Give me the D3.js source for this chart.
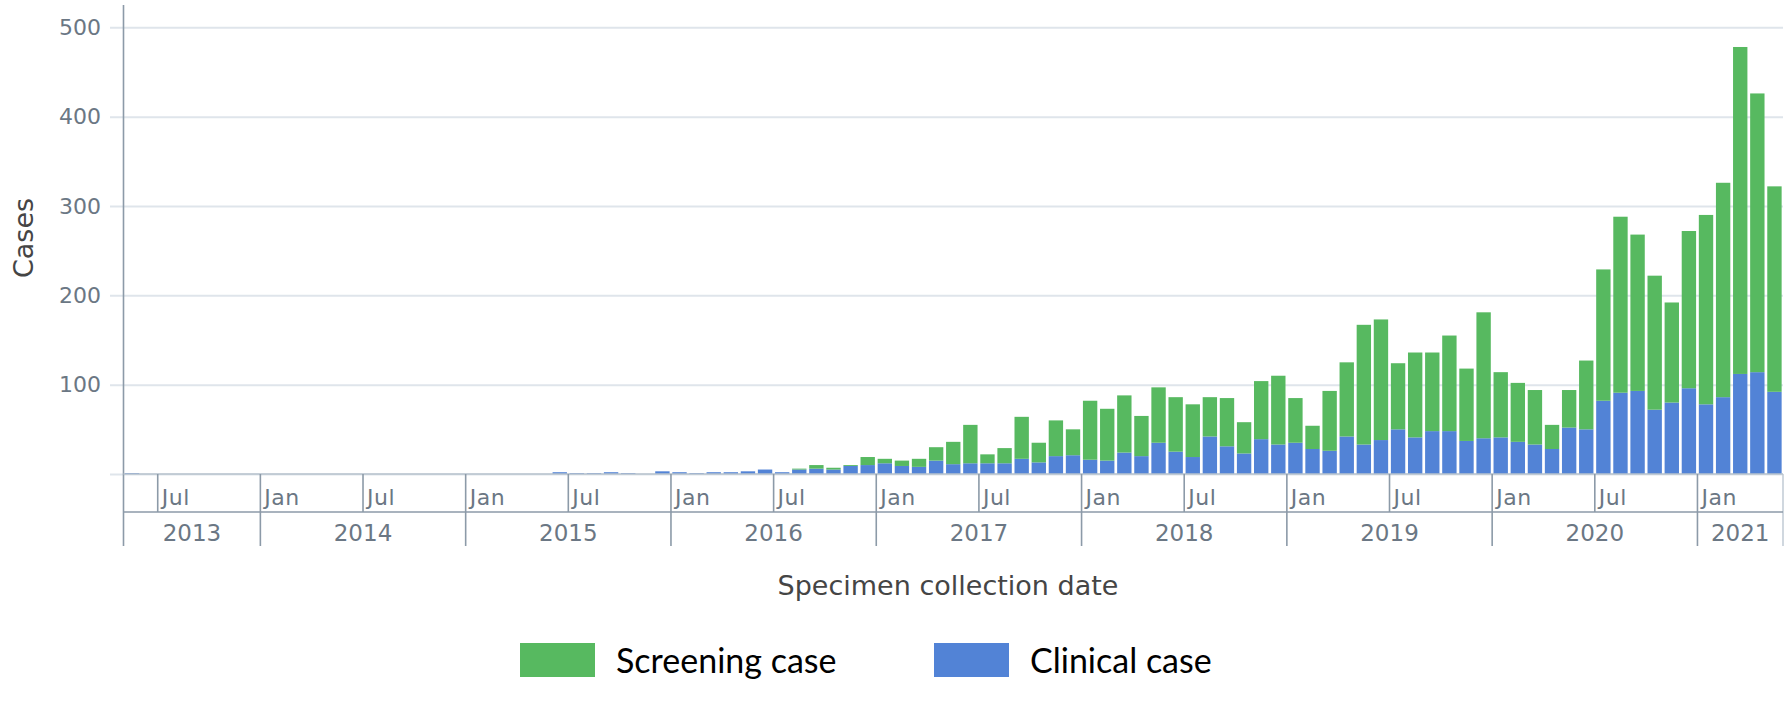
<!DOCTYPE html>
<html>
<head>
<meta charset="utf-8">
<script src="https://cdn.jsdelivr.net/npm/d3@7"></script>
<style>
  body { margin: 0; background: #fff; }
  svg { display: block; }
</style>
</head>
<body>
<svg class="cases-by-month" width="1791" height="712"></svg>
<script>
// monthly counts, May 2013 .. May 2021
const firstMonth = '2013-05'
const lastMonth = '2021-05'

const clinical = [
  1, 0, 0, 0, 0, 0, 0, 0,
  0, 0, 0, 0, 0, 0, 0, 0, 0, 0, 0, 0,
  0, 0, 0, 0, 0, 2, 1, 1, 2, 1, 0, 3,
  2, 1, 2, 2, 3, 5, 2, 5, 6, 5, 9, 10,
  12, 9, 8, 15, 11, 12, 12, 12, 17, 13, 20, 21,
  16, 15, 24, 20, 35, 25, 19, 42, 31, 23, 39, 33,
  35, 28, 26, 42, 33, 38, 50, 41, 48, 48, 37, 40,
  41, 36, 33, 28, 52, 50, 82, 91, 93, 72, 80, 96,
  78, 86, 112, 114, 92
]
const screening = [
  0, 0, 0, 0, 0, 0, 0, 0,
  0, 0, 0, 0, 0, 0, 0, 0, 0, 0, 0, 0,
  0, 0, 0, 0, 0, 0, 0, 0, 0, 0, 0, 0,
  0, 0, 0, 0, 0, 0, 0, 1, 4, 2, 1, 9,
  5, 6, 9, 15, 25, 43, 10, 17, 47, 22, 40, 29,
  66, 58, 64, 45, 62, 61, 59, 44, 54, 35, 65, 77,
  50, 26, 67, 83, 134, 135, 74, 95, 88, 107, 81, 141,
  73, 66, 61, 27, 42, 77, 147, 197, 175, 150, 112, 176,
  212, 240, 366, 312, 230
]
const yTicks = [0, 100, 200, 300, 400, 500]
const seriesNames = ['Screening case', 'Clinical case']
const colors = { clinical: '#5283d6', screening: '#57b960' }

const svg = d3.select('.cases-by-month')
const plotLeft = 123.5, plotRight = 1783, plotTop = 5, plotBottom = 474
const monthRow = 512, yearRow = 546
const axisColor = '#8c9aa8', labelColor = '#6b7784'

const parseMonth = d3.timeParse('%Y-%m')
const months = d3.timeMonth.range(parseMonth(firstMonth), d3.timeMonth.offset(parseMonth(lastMonth), 1))
const rows = months.map((m, i) => ({ month: m, clinical: clinical[i], screening: screening[i] }))

const x = d3.scaleBand().domain(months).range([plotLeft, plotRight]).paddingInner(0.16).paddingOuter(0.08)
const y = d3.scaleLinear().domain([0, 525]).range([plotBottom, plotTop])
const slotStart = m => x(m) - x.step() * x.paddingInner() / 2

// grid + y labels
const yAxis = svg.append('g')
  .attr('transform', 'translate(110,0)')
  .call(d3.axisLeft(y).tickValues(yTicks).tickSize(-(plotRight - 110)).tickPadding(9)
    .tickFormat(d => d === 0 ? '' : d))
yAxis.select('.domain').remove()
yAxis.selectAll('.tick line').attr('stroke', '#dfe5eb').attr('stroke-width', 2)
yAxis.selectAll('.tick text')
  .attr('fill', labelColor)
  .style('font-family', 'DejaVu Sans, sans-serif')
  .style('font-size', '22px')

// stacked bars
const stack = d3.stack().keys(['clinical', 'screening'])(rows)
svg.append('g').selectAll('g')
  .data(stack)
  .enter().append('g')
  .attr('fill', d => colors[d.key])
  .selectAll('rect')
  .data(d => d)
  .enter().append('rect')
  .attr('x', d => x(d.data.month))
  .attr('y', d => y(d[1]))
  .attr('width', x.bandwidth())
  .attr('height', d => y(d[0]) - y(d[1]))

// x axis frame
const frame = svg.append('g').attr('stroke', axisColor).attr('stroke-width', 1.6)
frame.append('line').attr('x1', plotLeft).attr('x2', plotLeft).attr('y1', plotTop).attr('y2', yearRow)
frame.append('line').attr('x1', plotRight).attr('x2', plotRight).attr('y1', plotBottom).attr('y2', yearRow)
  .attr('stroke', '#c5ced7')
frame.append('line').attr('x1', plotLeft).attr('x2', plotRight).attr('y1', plotBottom).attr('y2', plotBottom)
  .attr('stroke', '#b7c2cd')
frame.append('line').attr('x1', plotLeft).attr('x2', plotRight).attr('y1', monthRow).attr('y2', monthRow)

const halfYears = months.filter(m => m.getMonth() === 0 || m.getMonth() === 6)
frame.selectAll('.month-tick')
  .data(halfYears)
  .enter().append('line')
  .attr('x1', d => slotStart(d))
  .attr('x2', d => slotStart(d))
  .attr('y1', plotBottom)
  .attr('y2', monthRow)

svg.append('g').selectAll('text')
  .data(halfYears)
  .enter().append('text')
  .attr('x', d => slotStart(d) + 4)
  .attr('y', 505)
  .attr('fill', labelColor)
  .style('font-family', 'DejaVu Sans, sans-serif')
  .style('font-size', '22px')
  .style('letter-spacing', '0.5px')
  .text(d3.timeFormat('%b'))

const years = months.filter(m => m.getMonth() === 0)
frame.selectAll('.year-tick')
  .data(years)
  .enter().append('line')
  .attr('x1', d => slotStart(d))
  .attr('x2', d => slotStart(d))
  .attr('y1', monthRow)
  .attr('y2', yearRow)

const yearList = d3.groups(months, m => m.getFullYear())
svg.append('g').selectAll('text')
  .data(yearList)
  .enter().append('text')
  .attr('x', d => {
    const a = slotStart(d[1][0])
    const b = slotStart(d[1][d[1].length - 1]) + x.step()
    return (a + b) / 2
  })
  .attr('y', 541)
  .attr('text-anchor', 'middle')
  .attr('fill', labelColor)
  .style('font-family', 'DejaVu Sans, sans-serif')
  .style('font-size', '23px')
  .text(d => d[0])

// axis titles
svg.append('text')
  .attr('x', 948)
  .attr('y', 595)
  .attr('text-anchor', 'middle')
  .attr('fill', '#454545')
  .style('font-family', 'DejaVu Sans, sans-serif')
  .style('font-size', '27px')
  .text('Specimen collection date')

svg.append('text')
  .attr('transform', 'translate(33,238) rotate(-90)')
  .attr('text-anchor', 'middle')
  .attr('fill', '#454545')
  .style('font-family', 'DejaVu Sans, sans-serif')
  .style('font-size', '27px')
  .text('Cases')

// legend
const legend = svg.append('g').selectAll('g')
  .data(seriesNames)
  .enter().append('g')
  .attr('transform', (d, i) => 'translate(' + (520 + i * 414) + ',643)')
legend.append('rect')
  .attr('width', 75)
  .attr('height', 34)
  .attr('fill', (d, i) => i === 0 ? colors.screening : colors.clinical)
legend.append('text')
  .attr('x', 96)
  .attr('y', 30)
  .attr('fill', '#000')
  .style('font-family', 'Lato, sans-serif')
  .style('font-size', '34px')
  .text(d => d)
</script>
</body>
</html>
